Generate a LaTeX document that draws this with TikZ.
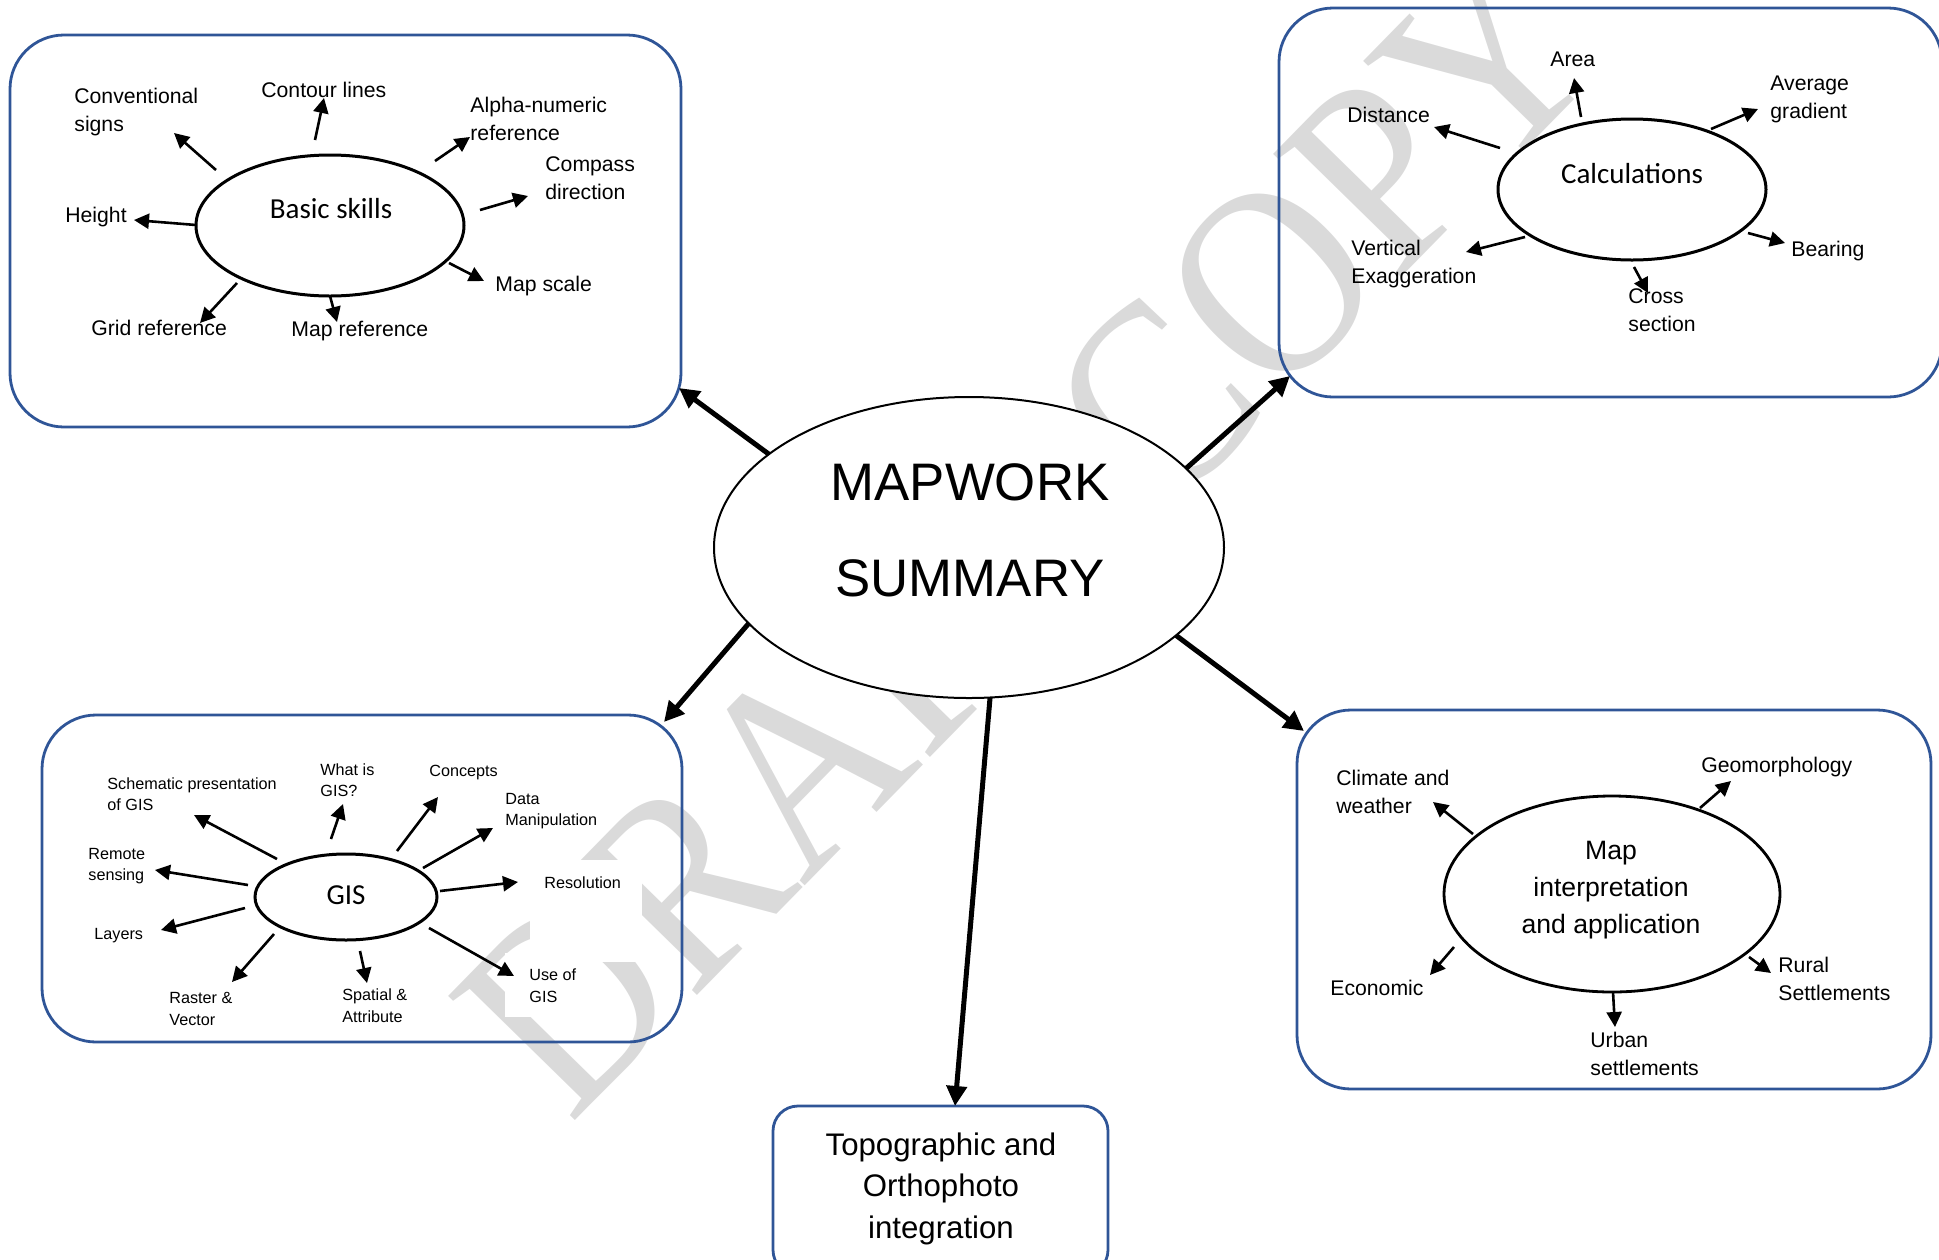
\documentclass[tikz,border=0pt]{standalone}
\usepackage{fontspec}
\setmainfont{Liberation Sans}
\newfontfamily\calfont{Carlito}
\newfontfamily\wmfont[FakeStretch=0.885]{Liberation Serif}
\usetikzlibrary{arrows.meta,shapes.geometric}
\definecolor{boxblue}{HTML}{2F5597}
\definecolor{wmgray}{HTML}{DADADA}
\tikzset{
  box/.style={rectangle, draw=boxblue, line width=1.4pt, rounded corners=27pt, inner sep=0pt, outer sep=0pt},
  oval/.style={ellipse, draw=black, fill=white, line width=1.5pt, inner sep=0pt, outer sep=0pt},
  leaf/.style={font=\fontsize{10.6pt}{14pt}\selectfont, anchor=west, align=left, inner sep=0pt},
  gleaf/.style={font=\fontsize{8.1pt}{10.8pt}\selectfont, anchor=west, align=left, inner sep=0pt},
  ovlabel/.style={font=\calfont\fontsize{14.5pt}{17pt}\selectfont, inner sep=0pt},
  la/.style={line width=1.3pt, -{Triangle[length=7.5pt,width=7.5pt]}},
  ma/.style={line width=2.5pt, -{Triangle[length=10pt,width=10pt]}},
  wm/.style={font=\wmfont\fontsize{135.5pt}{140pt}\selectfont, text=wmgray, rotate=45.6, inner sep=0pt},
}
\begin{document}
\begin{tikzpicture}[x=0.5pt,y=-0.5pt]
\useasboundingbox (0,0) rectangle (1939,1259);

% watermark
\node[wm] (wmark) at (1027,533) {DRAFT COPY};

% white text-box areas hiding part of the watermark
\fill[white] (530,860) rectangle (642,962);
\fill[white] (505,953) rectangle (595,1017);

% boxes
\node[box, minimum width=335.5pt, minimum height=196pt] (b1) at (345.5,231) {};
\node[box, minimum width=331.5pt, minimum height=194.5pt] (b2) at (1610.5,202.5) {};
\node[box, minimum width=320pt, minimum height=163.5pt] (b3) at (362,878.5) {};
\node[box, minimum width=317pt, minimum height=189.5pt] (b4) at (1614,899.5) {};
\node[box, rounded corners=12.5pt, minimum width=167.5pt, minimum height=84.5pt] (b5) at (940.5,1190.5) {};

% ovals
\node[oval, minimum width=134pt, minimum height=70.5pt] (bs) at (330,225.5) {};
\node[oval, minimum width=134pt, minimum height=70.5pt] (calc) at (1632,189.5) {};
\node[oval, minimum width=91pt, minimum height=43pt] (gis) at (346,897) {};
\node[oval, line width=1.4pt, minimum width=168pt, minimum height=98pt] (mi) at (1612,894) {};
\node[oval, line width=1pt, minimum width=255pt, minimum height=150.5pt] (main) at (969,547.5) {};

% oval labels
\node[font=\fontsize{26.4pt}{48pt}\selectfont, align=center, inner sep=0pt] (mainlbl) at (970,530) {MAPWORK\\SUMMARY};
\node[ovlabel] (bslbl) at (331,209) {Basic skills};
\node[ovlabel] (calclbl) at (1632,174) {Calculations};
\node[ovlabel] (gislbl) at (346,895) {GIS};
\node[font=\fontsize{13.3pt}{18.3pt}\selectfont, align=center, inner sep=0pt] (milbl) at (1611,890) {Map\\interpretation\\and application};
\node[font=\fontsize{15.6pt}{20.75pt}\selectfont, align=center, inner sep=0pt] (b5lbl) at (941,1188.5) {Topographic and\\Orthophoto\\integration};

% basic skills leaves
\node[leaf] (conv) at (74,112) {Conventional\\signs};
\node[leaf] (cont) at (261,89.5) {Contour lines};
\node[leaf] (alpha) at (470,118.5) {Alpha-numeric\\reference};
\node[leaf] (comp) at (545,178.5) {Compass\\direction};
\node[leaf] (height) at (65,217) {Height};
\node[leaf] (mscale) at (495,286.5) {Map scale};
\node[leaf] (grid) at (91,327.5) {Grid reference};
\node[leaf] (mref) at (291,331.5) {Map reference};

% calculations leaves
\node[leaf] (area) at (1550,59) {Area};
\node[leaf] (avg) at (1770,99.8) {Average\\gradient};
\node[leaf] (dist) at (1347,114.5) {Distance};
\node[leaf] (vert) at (1351,264) {Vertical\\Exaggeration};
\node[leaf] (bear) at (1791,250.8) {Bearing};
\node[leaf] (cross) at (1628,310.5) {Cross\\section};

% GIS leaves
\node[gleaf] (schem) at (107,794) {Schematic presentation\\of GIS};
\node[gleaf] (what) at (320,780) {What is\\GIS?};
\node[gleaf] (conc) at (429,773) {Concepts};
\node[gleaf] (data) at (505,811) {Data\\Manipulation};
\node[gleaf] (remote) at (88,866) {Remote\\sensing};
\node[gleaf] (resol) at (544,882.5) {Resolution};
\node[gleaf] (layers) at (94,935.7) {Layers};
\node[gleaf] (raster) at (169,1009) {Raster \&\\Vector};
\node[gleaf] (spat) at (342,1005.5) {Spatial \&\\Attribute};
\node[gleaf] (use) at (529,985.5) {Use of\\GIS};

% map interpretation leaves
\node[leaf] (clim) at (1336,791.5) {Climate and\\weather};
\node[leaf] (geo) at (1701,767) {Geomorphology};
\node[leaf] (econ) at (1330,987.5) {Economic};
\node[leaf] (rural) at (1778,978.5) {Rural\\Settlements};
\node[leaf] (urban) at (1590,1053.5) {Urban\\settlements};

% leaf arrows
\foreach \n/\sx/\sy/\ex/\ey in {
  a1/216/170/174/133, a2/315/140/324/98, a3/435/161/470/137, a4/480/210/528/196,
  a5/196/225/134/220, a6/449/263/484/281, a7/237/283/200/323, a8/330/296/337/322,
  c1/1581/117/1574/78, c2/1711/129/1758/109, c3/1500/148/1434/127, c4/1525/237/1466/252,
  c5/1748/233/1785/243, c6/1634/267/1648/293,
  g1/277/859/194/815, g2/331/839/343/804, g3/397/851/438/797, g4/423/868/493/828,
  g5/248/885/155/870, g6/440/891/518/882, g7/245/908/161/930, g8/274/934/232/982,
  g9/360/951/367/983, g10/429/928/514/976,
  m1/1473/834/1433/802, m2/1700/808/1731/781, m3/1454/947/1430/975, m4/1749/957/1771/973,
  m5/1613/992/1615/1027}
{
  \coordinate (s\n) at (\sx,\sy);
  \coordinate (e\n) at (\ex,\ey);
  \draw[la] (s\n) -- (e\n);
}

% main arrows
\coordinate (t1) at (679,388);
\coordinate (t2) at (1290,376);
\coordinate (t3) at (664,722);
\coordinate (t4) at (1304,731);
\coordinate (t5) at (955,1106);
\draw[ma] (main.155.5) -- (t1);
\draw[ma] (main.20.8) -- (t2);
\draw[ma] (main.199.8) -- (t3);
\draw[ma] (main.337.7) -- (t4);
\draw[ma] (main.278.5) -- (t5);
\end{tikzpicture}
\end{document}
